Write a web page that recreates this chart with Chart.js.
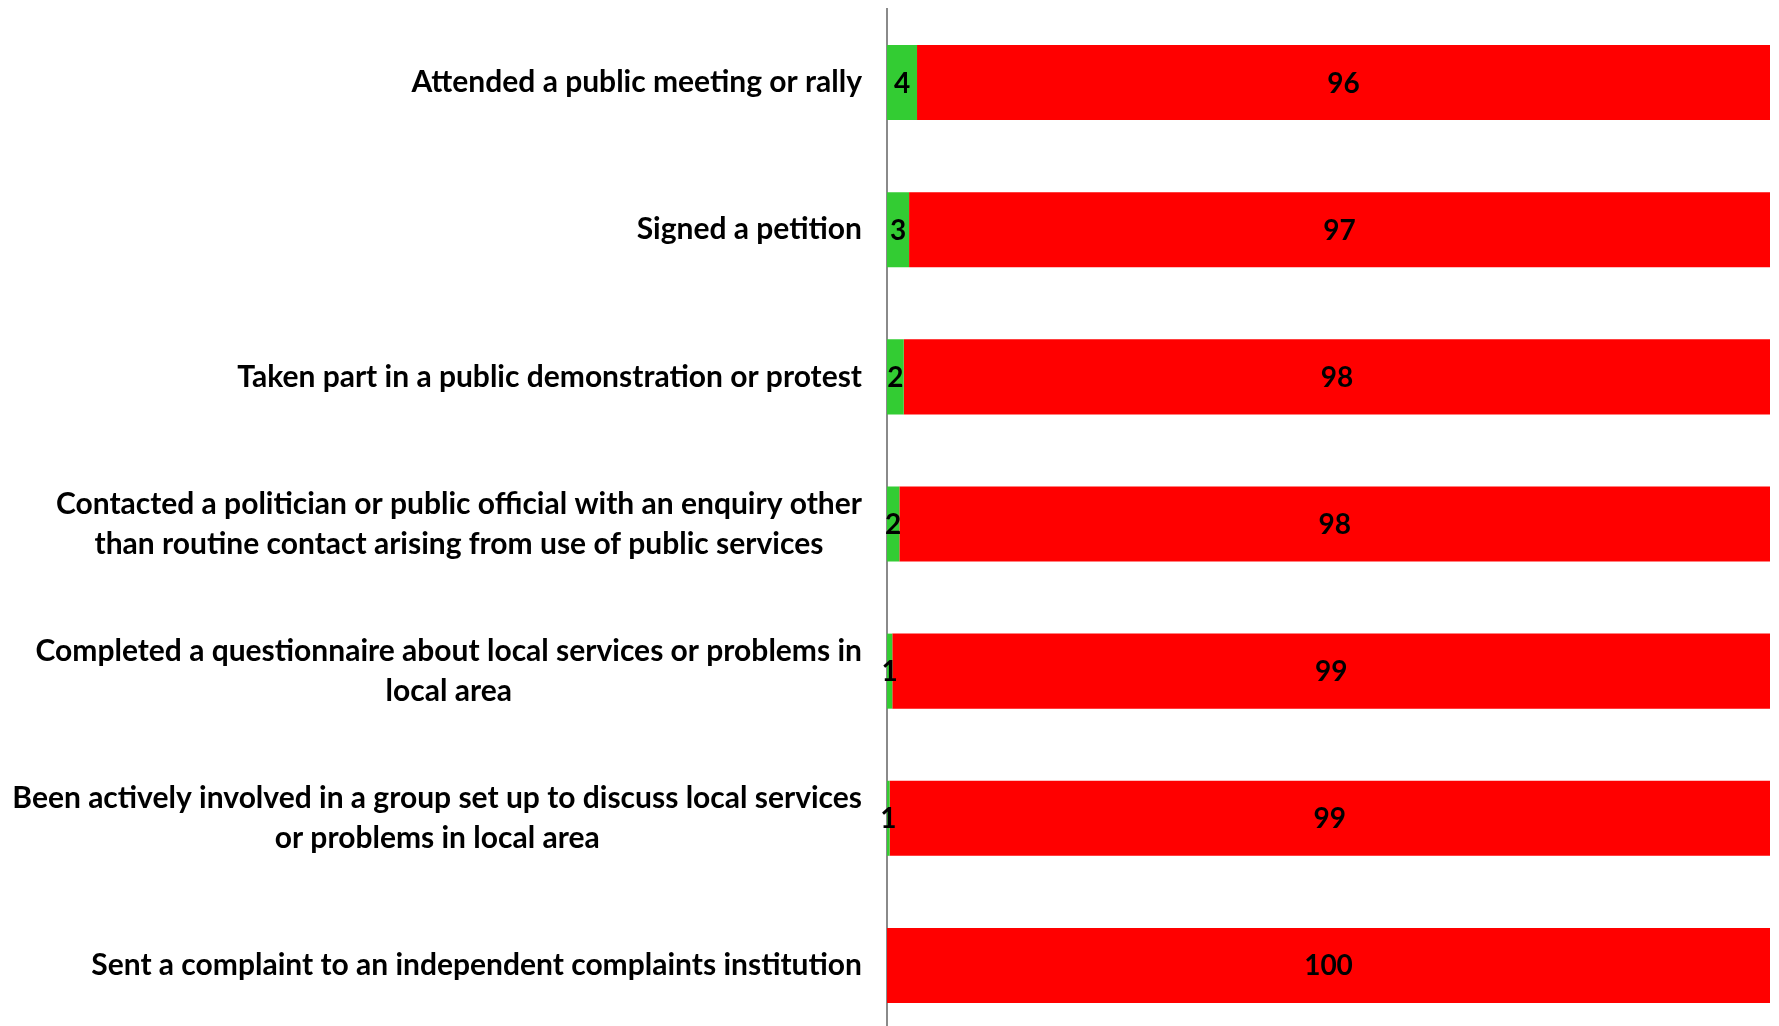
<!DOCTYPE html>
<html><head><meta charset="utf-8">
<script src="https://cdn.jsdelivr.net/npm/chart.js@4/dist/chart.umd.min.js"></script>
<style>html,body{margin:0;padding:0;background:#fff;overflow:hidden;}</style>
</head><body>
<canvas id="c" width="1779" height="1040"></canvas>
<script>
const categories = [
  ['Attended a public meeting or rally'],
  ['Signed a petition'],
  ['Taken part in a public demonstration or protest'],
  ['Contacted a politician or public official with an enquiry other', 'than routine contact arising from use of public services'],
  ['Completed a questionnaire about local services or problems in', 'local area'],
  ['Been actively involved in a group set up to discuss local services', 'or problems in local area'],
  ['Sent a complaint to an independent complaints institution']
];
const greenValues = [3.4, 2.5, 1.9, 1.4, 0.6, 0.3, 0];
const redValues = [96.6, 97.5, 98.1, 98.6, 99.4, 99.7, 100];
const greenLabels = ['4', '3', '2', '2', '1', '1', ''];
const redLabels = ['96', '97', '98', '98', '99', '99', '100'];

const LABEL_FONT = 'bold 30px Lato, "Liberation Sans", sans-serif';
const VALUE_FONT = 'bold 28px Lato, "Liberation Sans", sans-serif';
const valueLabels = [greenLabels, redLabels];

const catLabelPlugin = {
  id: 'catLabels',
  afterDraw(chart) {
    const ctx = chart.ctx, ys = chart.scales.y;
    const right = chart.chartArea.left - 25;
    ctx.save();
    ctx.font = LABEL_FONT;
    ctx.fillStyle = '#000';
    ctx.textBaseline = 'middle';
    ctx.textAlign = 'center';
    const lh = 40;
    categories.forEach((lines, i) => {
      const cy = ys.getPixelForValue(i);
      const w = Math.max(...lines.map(l => ctx.measureText(l).width));
      const cx = right - w / 2;
      lines.forEach((l, j) => ctx.fillText(l, cx, cy + (j - (lines.length - 1) / 2) * lh));
    });
    ctx.restore();
  }
};

const valueLabelPlugin = {
  id: 'valueLabels',
  afterDatasetsDraw(chart) {
    const ctx = chart.ctx;
    ctx.save();
    ctx.font = VALUE_FONT;
    ctx.fillStyle = '#000';
    ctx.textBaseline = 'middle';
    ctx.textAlign = 'center';
    chart.data.datasets.forEach((ds, di) => {
      const meta = chart.getDatasetMeta(di);
      meta.data.forEach((el, i) => {
        const t = valueLabels[di][i];
        if (!t) return;
        const p = el.getProps(['x', 'y', 'base'], true);
        ctx.fillText(t, (p.x + p.base) / 2, p.y + 1);
      });
    });
    ctx.restore();
  }
};

new Chart(document.getElementById('c'), {
  type: 'bar',
  data: {
    labels: categories,
    datasets: [
      { label: 'Yes', data: greenValues, backgroundColor: '#33CC33', borderWidth: 0, barPercentage: 1, categoryPercentage: 0.51 },
      { label: 'No', data: redValues, backgroundColor: '#FF0000', borderWidth: 0, barPercentage: 1, categoryPercentage: 0.51 }
    ]
  },
  options: {
    indexAxis: 'y',
    responsive: false,
    animation: false,
    devicePixelRatio: 1,
    layout: { padding: { top: 9, right: 9, bottom: 1, left: 0 } },
    plugins: { legend: { display: false }, tooltip: { enabled: false } },
    scales: {
      x: { display: false, stacked: true, min: 0, max: 100 },
      y: {
        stacked: true,
        grid: { display: false },
        border: { display: true, color: '#8a8a8a', width: 2 },
        ticks: { display: false },
        afterFit(scale) { scale.width = 887; }
      }
    }
  },
  plugins: [catLabelPlugin, valueLabelPlugin]
});
</script>
</body></html>
